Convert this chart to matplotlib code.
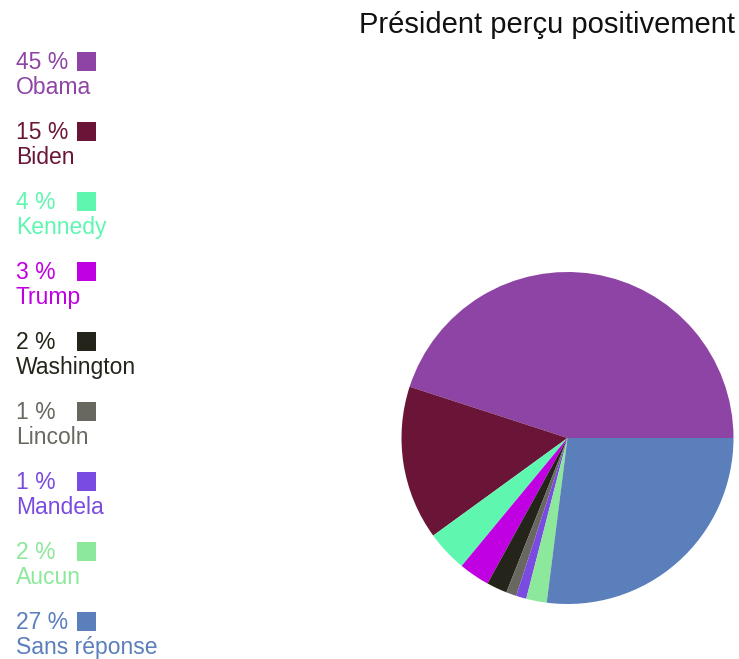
import matplotlib
matplotlib.use("Agg")
import matplotlib.pyplot as plt
from matplotlib.patches import Rectangle

# sondage : président perçu positivement
noms = ["Obama", "Biden", "Kennedy", "Trump", "Washington",
        "Lincoln", "Mandela", "Aucun", "Sans réponse"]
pourcents = [45, 15, 4, 3, 2, 1, 1, 2, 27]
couleurs = ["#8e44a5", "#6a1538", "#5ff7b0", "#c000e2", "#24241a",
            "#686860", "#7a4be0", "#8ce89a", "#5a7fbb"]

W, H = 739, 659
fig = plt.figure(figsize=(W / 100, H / 100), dpi=100)
fig.patch.set_facecolor("white")
plt.rcParams["font.family"] = ["Liberation Sans", "DejaVu Sans"]

# camembert : centre (567, 438) px, rayon 166 px
cx, cy, r = 567.5, 438, 166
ax = fig.add_axes([(cx - r) / W, (H - cy - r) / H, 2 * r / W, 2 * r / H])
ax.pie(pourcents, colors=couleurs, startangle=0, counterclock=True,
       radius=1, wedgeprops=dict(linewidth=0))
ax.set_xlim(-1, 1)
ax.set_ylim(-1, 1)
ax.set_aspect("equal")
ax.axis("off")

fig.text(735 / W, 1 - 33 / H, "Président perçu positivement",
         ha="right", va="baseline", fontsize=21, color="#111111")

# légende à gauche
for i in range(len(noms)):
    y0 = 70 * i
    fig.text(16 / W, 1 - (69 + y0) / H, f"{pourcents[i]} %",
             ha="left", va="baseline", fontsize=16.5, color=couleurs[i])
    fig.text(16 / W, 1 - (94 + y0) / H, noms[i],
             ha="left", va="baseline", fontsize=16.5, color=couleurs[i])
    fig.patches.append(Rectangle((77 / W, 1 - (71 + y0) / H), 19 / W, 19 / H,
                                 transform=fig.transFigure,
                                 facecolor=couleurs[i], edgecolor="none"))

fig.savefig("out.png", dpi=100)
